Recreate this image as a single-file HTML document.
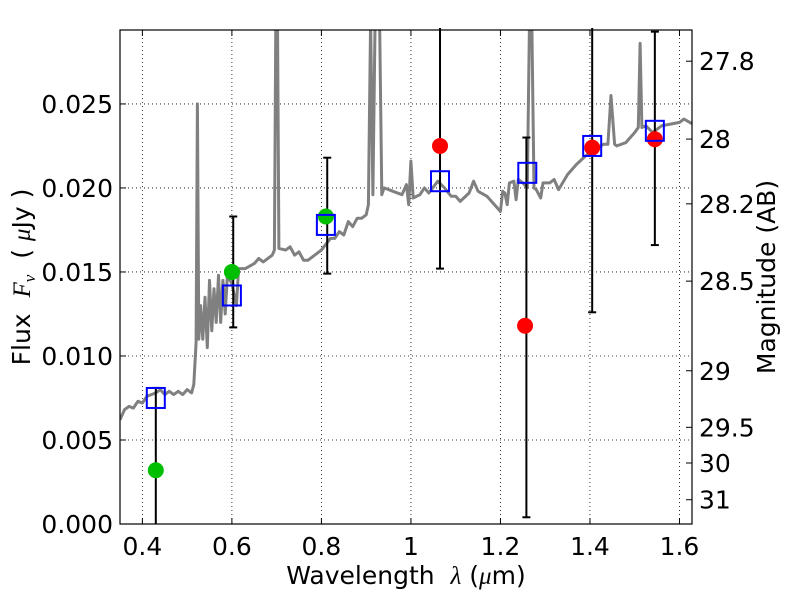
<!DOCTYPE html>
<html><head><meta charset="utf-8"><style>
body{margin:0;background:#fff;}
svg{font-family:"DejaVu Sans","Liberation Sans",sans-serif;}
</style></head><body>
<svg id="chart" width="800" height="600" xmlns="http://www.w3.org/2000/svg">
<defs><clipPath id="clip"><rect x="120" y="30" width="572" height="494"/></clipPath></defs>
<rect x="0" y="0" width="800" height="600" fill="#fff"/>
<g id="grid"></g>
<g id="marks" clip-path="url(#clip)"></g>
<g id="bars"></g>
<g id="pts"></g>
<rect x="120" y="30" width="572" height="494" fill="none" stroke="#000" stroke-width="1.2"/>
<g id="axes"></g>
<text x="406" y="584" font-size="25" text-anchor="middle">Wavelength&#160; <tspan font-family="Liberation Serif" font-style="italic">λ</tspan> (<tspan font-family="Liberation Serif" font-style="italic">μ</tspan>m)</text>
<text transform="translate(30,277) rotate(-90)" font-size="25" text-anchor="middle">Flux&#160; <tspan font-family="Liberation Serif" font-style="italic">F<tspan font-size="17" dy="5">ν</tspan></tspan><tspan dy="-5">&#160; ( </tspan><tspan font-family="Liberation Serif" font-style="italic">μ</tspan>Jy )</text>
<text transform="translate(775,277) rotate(-90)" font-size="25" text-anchor="middle">Magnitude (AB)</text>
</svg>
<script>
const specLam=[0.35,0.36,0.37,0.38,0.39,0.40,0.41,0.42,0.43,0.44,0.45,0.46,0.47,0.48,0.49,0.50,0.51,0.515,0.52,0.523,0.526,0.53,0.535,0.54,0.545,0.55,0.555,0.56,0.565,0.57,0.575,0.58,0.585,0.59,0.60,0.61,0.615,0.63,0.65,0.66,0.67,0.69,0.695,0.698,0.702,0.705,0.72,0.73,0.74,0.75,0.76,0.77,0.78,0.80,0.82,0.83,0.84,0.85,0.86,0.87,0.88,0.89,0.90,0.905,0.91,0.915,0.92,0.93,0.935,0.94,0.96,0.98,0.99,0.995,1.00,1.005,1.02,1.03,1.04,1.06,1.075,1.09,1.10,1.11,1.13,1.14,1.15,1.17,1.18,1.19,1.20,1.205,1.21,1.215,1.22,1.23,1.235,1.24,1.25,1.26,1.265,1.27,1.275,1.28,1.29,1.295,1.31,1.32,1.33,1.35,1.37,1.39,1.41,1.43,1.44,1.447,1.455,1.46,1.48,1.50,1.508,1.512,1.516,1.525,1.54,1.56,1.58,1.60,1.61,1.63];
const specFlux=[0.0062,0.0068,0.0070,0.0069,0.0073,0.0072,0.0076,0.0077,0.0078,0.0080,0.0077,0.0079,0.0077,0.0079,0.0077,0.0080,0.0078,0.0083,0.0108,0.0250,0.0110,0.0130,0.0110,0.0135,0.0105,0.0145,0.0115,0.0140,0.0120,0.0148,0.0120,0.0145,0.0125,0.0148,0.0143,0.0130,0.0152,0.0152,0.0155,0.0158,0.0156,0.0160,0.0163,0.0300,0.0300,0.0164,0.0163,0.0165,0.0160,0.0162,0.0157,0.0157,0.0159,0.0163,0.0170,0.0170,0.0174,0.0172,0.0180,0.0177,0.0182,0.0182,0.0184,0.0190,0.0300,0.0196,0.0300,0.0300,0.0196,0.0200,0.0198,0.0196,0.0202,0.0190,0.0216,0.0194,0.0196,0.0200,0.0197,0.0204,0.0200,0.0195,0.0195,0.0192,0.0197,0.0204,0.0198,0.0195,0.0192,0.0189,0.0186,0.0198,0.0197,0.0190,0.0203,0.0204,0.0193,0.0205,0.0203,0.0200,0.0300,0.0300,0.0200,0.0199,0.0194,0.0203,0.0203,0.0205,0.0199,0.0208,0.0214,0.0219,0.0223,0.0226,0.0226,0.0255,0.0226,0.0225,0.0227,0.0233,0.0236,0.0286,0.0236,0.0237,0.0233,0.0237,0.0238,0.0239,0.0241,0.0238];
const greenLam=[0.43,0.60,0.81];
const greenFlux=[0.0032,0.0150,0.0183];
const redLam=[1.065,1.255,1.405,1.545];
const redFlux=[0.0225,0.0118,0.0224,0.0229];
const sqLam=[0.43,0.60,0.81,1.065,1.26,1.405,1.545];
const sqFlux=[0.0075,0.0136,0.0178,0.0204,0.0209,0.0225,0.0234];
const errLam=[0.43,0.603,0.813,1.065,1.258,1.405,1.545];
const errLo=[0.0,0.0117,0.0149,0.0152,0.0004,0.0126,0.0166];
const errHi=[0.0081,0.0183,0.0218,0.035,0.0230,0.035,0.0293];
const xTicks=[0.4,0.6,0.8,1.0,1.2,1.4,1.6];
const xTickLabels=["0.4","0.6","0.8","1","1.2","1.4","1.6"];
const yTicks=[0,0.005,0.010,0.015,0.020,0.025];
const yTickLabels=["0.000","0.005","0.010","0.015","0.020","0.025"];
const magTicks=[27.8,28,28.2,28.5,29,29.5,30,31];
const magTickLabels=["27.8","28","28.2","28.5","29","29.5","30","31"];

const X0=120,X1=692,Y0=524,Y1=30,XMIN=0.35,XMAX=1.628,YMIN=0,YMAX=0.0294;
const sx=v=>X0+(v-XMIN)/(XMAX-XMIN)*(X1-X0);
const sy=v=>Y0-(v-YMIN)/(YMAX-YMIN)*(Y0-Y1);
const NS="http://www.w3.org/2000/svg";
function mk(tag,attrs,parent){const e=document.createElementNS(NS,tag);for(const k in attrs)e.setAttribute(k,attrs[k]);parent.appendChild(e);return e;}
const grid=document.getElementById('grid'),axes=document.getElementById('axes');
const marks=document.getElementById('marks'),bars=document.getElementById('bars'),pts=document.getElementById('pts');
xTicks.forEach((t,i)=>{
  const x=sx(t);
  const g=mk('line',{x1:x,x2:x,y1:Y1,y2:Y0,stroke:'#000','stroke-width':0.8,'stroke-dasharray':'1,3'},grid);
  
  
  mk('line',{x1:x,x2:x,y1:Y0,y2:Y0-6,stroke:'#000'},axes);
  mk('line',{x1:x,x2:x,y1:Y1,y2:Y1+6,stroke:'#000'},axes);
  const tx=mk('text',{x:x,y:Y0+31,'font-size':25,'text-anchor':'middle'},axes);
  tx.textContent=xTickLabels[i];
  
  
});
yTicks.forEach((t,i)=>{
  const y=sy(t);
  if(t>0){const g=mk('line',{x1:X0,x2:X1,y1:y,y2:y,stroke:'#000','stroke-width':0.8,'stroke-dasharray':'1,3'},grid);
  
  }
  mk('line',{x1:X0,x2:X0+6,y1:y,y2:y,stroke:'#000'},axes);
  const tx=mk('text',{x:X0-7,y:y+9,'font-size':25,'text-anchor':'end'},axes);
  tx.textContent=yTickLabels[i];
  
  
});
magTicks.forEach((m,i)=>{
  const y=sy(Math.pow(10,(23.9-m)/2.5));
  mk('line',{x1:X1,x2:X1-6,y1:y,y2:y,stroke:'#000'},axes);
  const tx=mk('text',{x:X1+7,y:y+9,'font-size':25,'text-anchor':'start'},axes);
  tx.textContent=magTickLabels[i];
  
  
});
const d=specLam.map((l,i)=>(i?'L':'M')+sx(l).toFixed(1)+','+sy(specFlux[i]).toFixed(1)).join(' ');
const sp=mk('path',{d:d,fill:'none',stroke:'#808080','stroke-width':3,'stroke-linejoin':'round'},marks);


errLam.forEach((l,i)=>{
  const x=sx(l),ya=Math.max(sy(errHi[i]),Y1-2),yb=sy(errLo[i]);
  const e=mk('line',{x1:x,x2:x,y1:ya,y2:yb,stroke:'#000','stroke-width':2},bars);
  
  
  if(errHi[i]<YMAX)mk('line',{x1:x-4,x2:x+4,y1:ya,y2:ya,stroke:'#000','stroke-width':2},bars);
  if(errLo[i]>0)mk('line',{x1:x-4,x2:x+4,y1:yb,y2:yb,stroke:'#000','stroke-width':2},bars);
});
greenLam.forEach((l,i)=>{
  const c=mk('circle',{cx:sx(l),cy:sy(greenFlux[i]),r:8,fill:'#00bf00'},pts);
  
  
});
redLam.forEach((l,i)=>{
  const c=mk('circle',{cx:sx(l),cy:sy(redFlux[i]),r:8,fill:'#ff0000'},pts);
  
  
});
sqLam.forEach((l,i)=>{
  const r=mk('rect',{x:sx(l)-9,y:sy(sqFlux[i])-10,width:18,height:20,fill:'none',stroke:'#0000ff','stroke-width':2},pts);
  
  
});
</script>
</body></html>
